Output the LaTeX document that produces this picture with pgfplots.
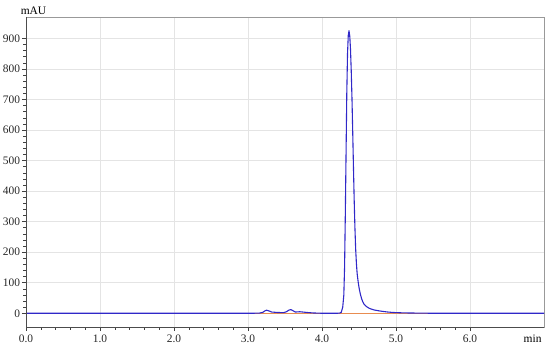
\documentclass[border=0pt]{standalone}
\usepackage{pgfplots}
\pgfplotsset{compat=1.18}
\usepackage{fontspec}
\setmainfont{Liberation Serif}

\definecolor{trace}{RGB}{48,40,200}
\definecolor{base}{RGB}{232,140,80}
\definecolor{gridc}{RGB}{228,228,228}

\begin{document}
\begin{tikzpicture}
\useasboundingbox (0,0) rectangle (550bp,348bp);
\begin{axis}[
    at={(26bp,21bp)}, anchor=south west,
    scale only axis,
    width=518bp, height=310bp,
    xmin=0, xmax=7, ymin=-45, ymax=970,
    xtick={0,1,2,3,4,5,6},
    xticklabels={0.0,1.0,2.0,3.0,4.0,5.0,6.0},
    ytick={0,100,200,300,400,500,600,700,800,900},
    minor x tick num=4, minor y tick num=4,
    xtick pos=left, ytick pos=left,
    tick align=outside,
    major tick length=4bp, minor tick length=2.5bp,
    tick style={black!75, line width=0.5pt},
    grid=major,
    major grid style={gridc, line width=0.5pt},
    axis line style={black!40, line width=0.8pt},
    /pgf/number format/assume math mode=true,
    ticklabel style={font=\fontsize{11.5}{13}\selectfont, black!85},
    xticklabel style={yshift=-0.5bp},
    yticklabel style={xshift=1.5bp},
    clip=true,
]
% baseline
\addplot[base, line width=0.6pt] coordinates {(0,0) (7,0)};
% chromatogram trace
\addplot[trace, line width=1.1pt, line join=round] coordinates {
(0.00,0) (1.00,0) (2.00,0) (3.00,0) (3.15,0.3) (3.20,3) (3.23,8) (3.25,10)
(3.28,8) (3.32,4) (3.40,2.5) (3.48,2) (3.52,5) (3.55,10) (3.58,12)
(3.61,8) (3.64,4) (3.67,4.5) (3.70,5) (3.74,4) (3.80,2.5) (3.88,1) (4.00,0)
(4.20,0) (4.24,0.5) (4.26,3) (4.28,20) (4.295,60) (4.305,150) (4.315,320)
(4.325,520) (4.335,720) (4.345,850) (4.355,910) (4.365,925) (4.375,908)
(4.385,865) (4.395,795) (4.405,705) (4.415,595) (4.425,480) (4.435,370)
(4.445,280) (4.455,210) (4.465,163) (4.475,130) (4.49,100) (4.505,78)
(4.52,61) (4.535,48) (4.55,38) (4.57,29) (4.60,22) (4.64,16) (4.70,11)
(4.78,7.5) (4.87,4.5) (4.96,2.5) (5.10,1.2) (5.30,0.5) (5.50,0) (7.00,0)
};
\end{axis}
% darker left and bottom axis lines
\draw[black!70, line width=0.8pt] (26bp,348bp-17bp) -- (26bp,21bp) -- (544bp,21bp);
\node[anchor=base, font=\fontsize{11.5}{13}\selectfont] at (33.5bp,348bp-15bp) {mAU};
\node[anchor=base east, font=\fontsize{11.5}{13}\selectfont] at (545bp,6bp) {min};
\end{tikzpicture}
\end{document}
